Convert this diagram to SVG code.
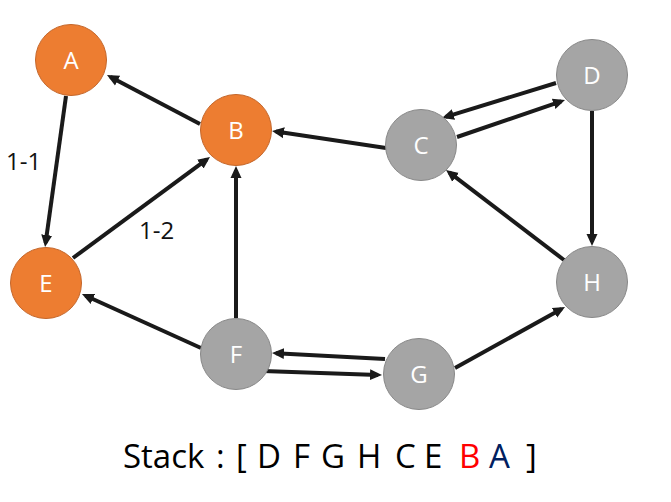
<svg xmlns="http://www.w3.org/2000/svg" width="671" height="502" viewBox="0 0 671 502">
<style>
.orange{fill:#ED7D31;stroke:#C4662A;stroke-width:1}
.gray{fill:#A5A5A5;stroke:#888888;stroke-width:1}
.lbl{font-family:"Open Sans","Noto Sans","Liberation Sans",sans-serif;font-size:24px;fill:#FFFFFF;text-anchor:middle}
.edge{stroke:#1a1a1a;stroke-width:4;fill:none;marker-end:url(#arr)}
.elbl{font-family:"Open Sans","Noto Sans","Liberation Sans",sans-serif;font-size:24px;fill:#111111}
.stk{font-family:"Open Sans","Noto Sans","Liberation Sans",sans-serif;font-size:33px;fill:#000000}
</style>
<defs>
<marker id="arr" markerUnits="userSpaceOnUse" markerWidth="14" markerHeight="14" viewBox="0 -7 14 14" refX="8" refY="0" orient="auto">
<path d="M0,-5.5 L12,0 L0,5.5 z" fill="#1a1a1a"/>
</marker>
</defs>
<rect width="671" height="502" fill="#FFFFFF"/>
<g id="connectors">
<line class="edge" x1="66" y1="96" x2="45.6" y2="243"/>
<line class="edge" x1="200" y1="124" x2="110.5" y2="76.9"/>
<line class="edge" x1="73" y1="258" x2="206.8" y2="159.4"/>
<line class="edge" x1="386" y1="148" x2="276" y2="131.6"/>
<line class="edge" x1="236" y1="318" x2="236" y2="170"/>
<line class="edge" x1="201" y1="348" x2="85.6" y2="295.7"/>
<line class="edge" x1="556" y1="83" x2="445.8" y2="116.8"/>
<line class="edge" x1="457" y1="137" x2="561.2" y2="101.3"/>
<line class="edge" x1="592" y1="111" x2="592" y2="242"/>
<line class="edge" x1="564" y1="260" x2="449.2" y2="172.4"/>
<line class="edge" x1="455" y1="368" x2="561.5" y2="308.9"/>
<line class="edge" x1="385" y1="359" x2="276" y2="353.2"/>
<line class="edge" x1="263" y1="371" x2="378" y2="374.9"/>
<text class="elbl" x="6" y="170">1-1</text>
<text class="elbl" x="139" y="239">1-2</text>
</g>
<g id="node-A"><circle class="orange" cx="71" cy="60" r="35.5"/><text class="lbl" x="71" y="69">A</text></g>
<g id="node-B"><circle class="orange" cx="236" cy="130" r="35.5"/><text class="lbl" x="236" y="139">B</text></g>
<g id="node-E"><circle class="orange" cx="46" cy="283" r="35.5"/><text class="lbl" x="46" y="292">E</text></g>
<g id="node-C"><circle class="gray" cx="421" cy="145" r="35.5"/><text class="lbl" x="421" y="154">C</text></g>
<g id="node-D"><circle class="gray" cx="592" cy="75" r="35.5"/><text class="lbl" x="592" y="84">D</text></g>
<g id="node-H"><circle class="gray" cx="592" cy="282" r="35.5"/><text class="lbl" x="592" y="291">H</text></g>
<g id="node-F"><circle class="gray" cx="236" cy="354" r="35.5"/><text class="lbl" x="236" y="363">F</text></g>
<g id="node-G"><circle class="gray" cx="419" cy="374" r="35.5"/><text class="lbl" x="419" y="383">G</text></g>
<g id="stack">
<text class="stk" y="468"><tspan x="123">Stack</tspan><tspan x="216">:</tspan><tspan x="236">[</tspan><tspan x="257">D</tspan><tspan x="293">F</tspan><tspan x="321">G</tspan><tspan x="357">H</tspan><tspan x="395">C</tspan><tspan x="424">E</tspan><tspan x="459" fill="#FF0000">B</tspan><tspan x="489" fill="#002060">A</tspan><tspan x="526">]</tspan></text>
</g>
</svg>
